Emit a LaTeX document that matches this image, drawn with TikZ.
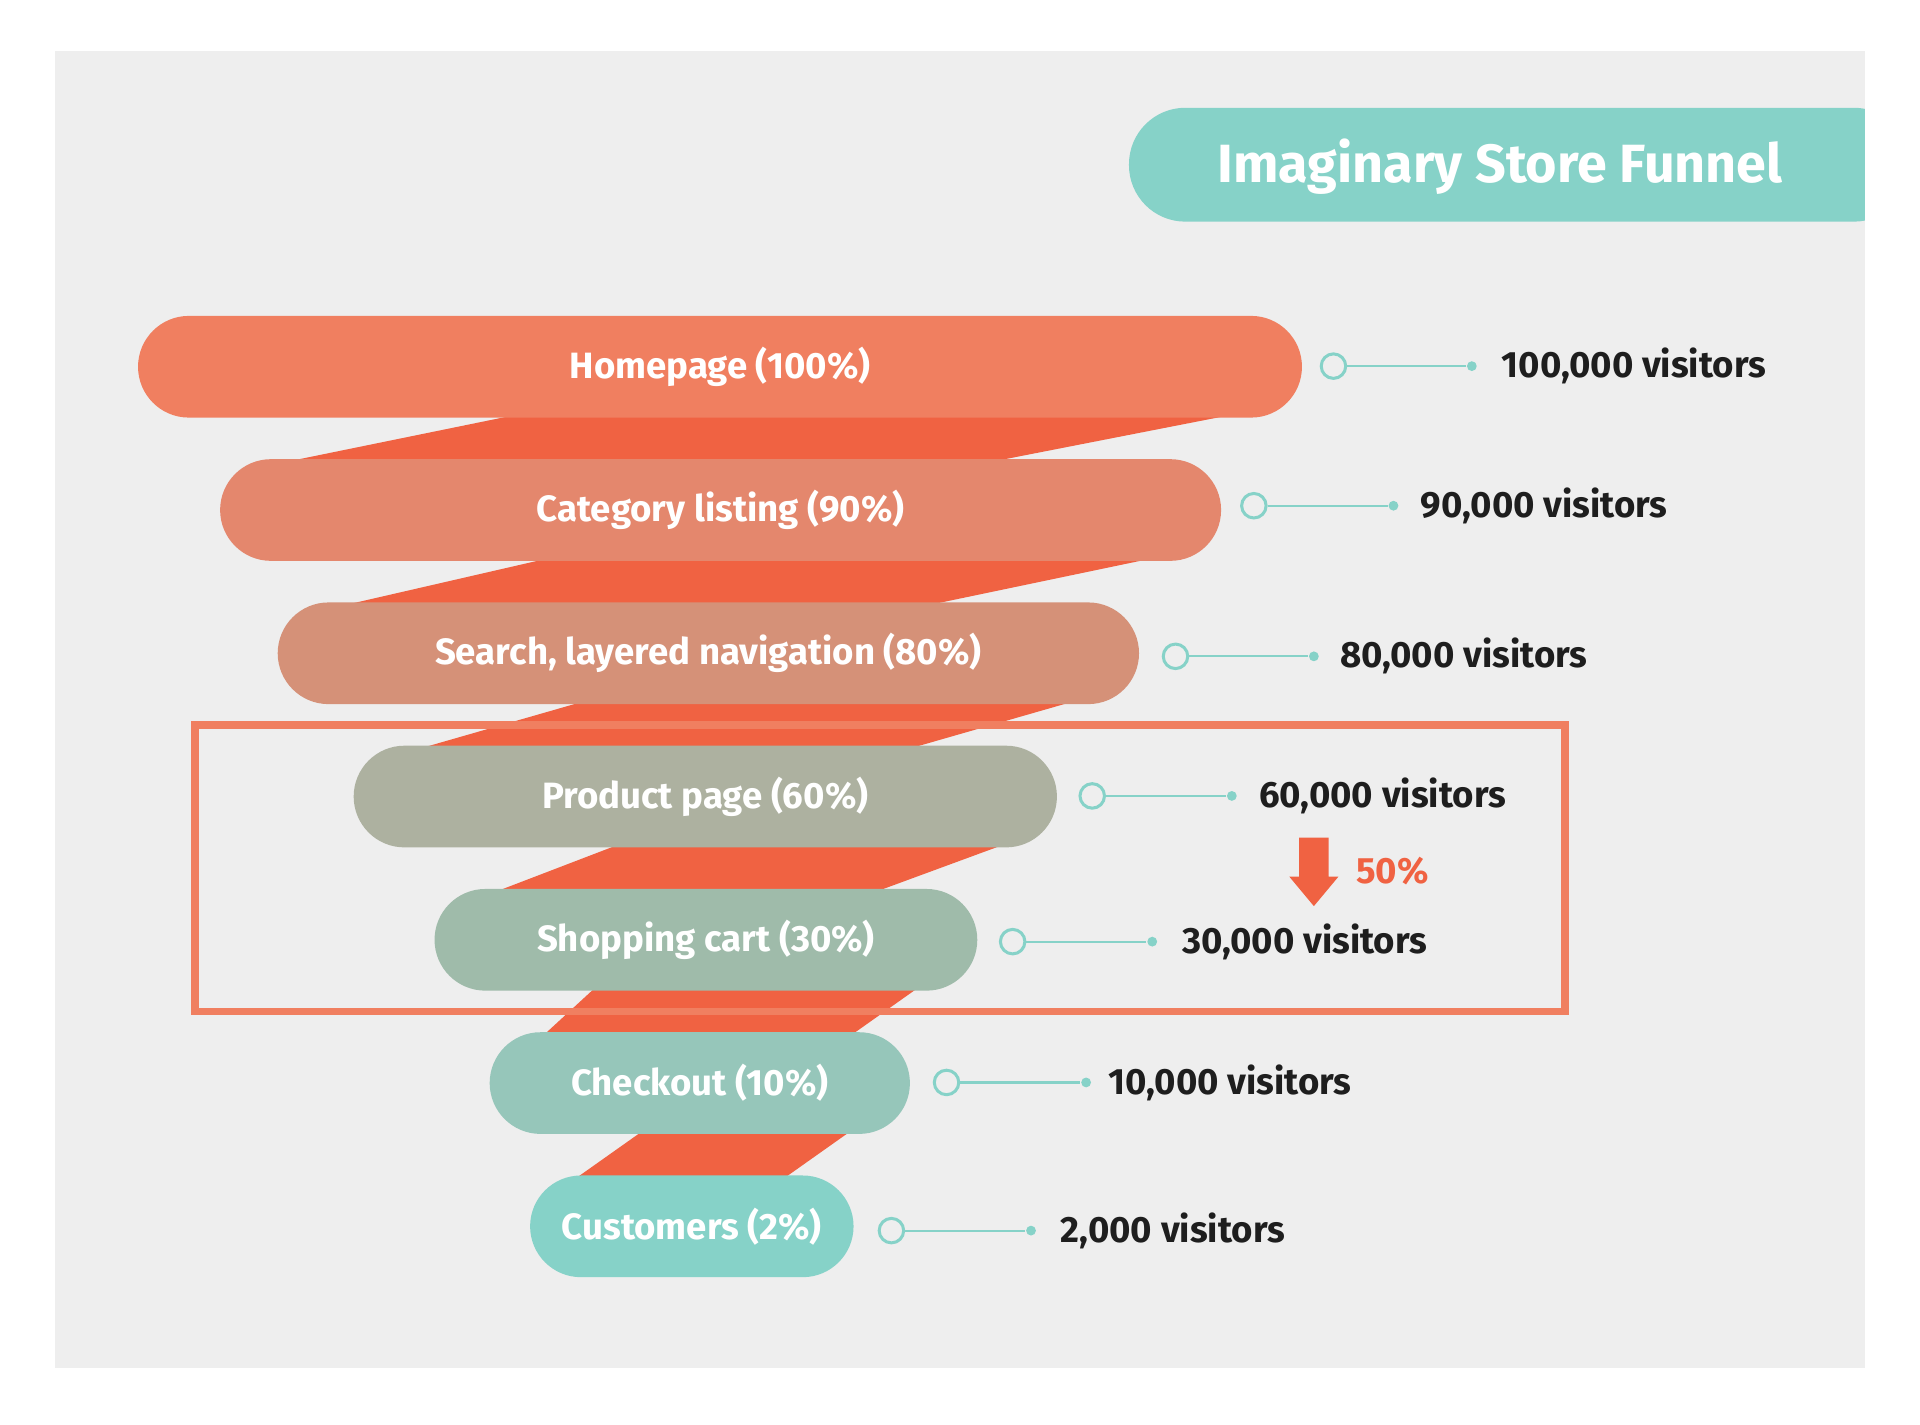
\documentclass[tikz,border=0pt]{standalone}
\usepackage{fontspec}
\setmainfont{Fira Sans}
\usetikzlibrary{arrows.meta}
\definecolor{bggray}{HTML}{EEEEEE}
\definecolor{teal}{HTML}{86D2C8}
\definecolor{band}{HTML}{F06242}
\definecolor{frame}{HTML}{F07F60}
\definecolor{stepa}{HTML}{F07F60}
\definecolor{stepb}{HTML}{E4876D}
\definecolor{stepc}{HTML}{D59178}
\definecolor{stepd}{HTML}{ADB1A0}
\definecolor{stepe}{HTML}{9FBBAA}
\definecolor{stepf}{HTML}{96C6BA}
\definecolor{stepg}{HTML}{86D2C8}
\definecolor{ink}{HTML}{1E1E1E}
\tikzset{
  pill/.style={rounded corners=0.415cm, minimum height=0.83cm, inner sep=0pt, text=white, font=\fontsize{8.5}{10}\selectfont\bfseries},
  ring/.style={circle, draw=teal, line width=0.7pt, fill=bggray, minimum size=0.2cm, inner sep=0pt},
  dot/.style={circle, fill=teal, minimum size=0.08cm, inner sep=0pt},
  count/.style={anchor=west, text=ink, font=\fontsize{8.5}{10}\selectfont\bfseries},
  link/.style={draw=teal, line width=0.5pt}
}
\begin{document}
\begin{tikzpicture}[x=0.01cm, y=-0.01cm]
			\useasboundingbox (0,0) rectangle (1568,1163);
			% Background and title
			\fill[white] (0,0) rectangle (1568,1163);
			\fill[bggray] (45,42) rectangle (1523,1117);
			\fill[teal, rounded corners=0.46cm] (922,88) rectangle (1560,181);
			\fill[bggray] (1523,80) rectangle (1568,190);
			\fill[white] (1523,80) rectangle (1568,190);
			\node[text=white, font=\fontsize{12.5}{14}\selectfont\bfseries] (title) at (1225,136) {Imaginary Store Funnel};
			% Bands
			\fill[band] (440,335) -- (1025,335) -- (790,381) -- (215,381) -- cycle;
			\fill[band] (465,452) -- (960,452) -- (740,498) -- (265,498) -- cycle;
			\fill[band] (490,569) -- (890,569) -- (730,615) -- (330,615) -- cycle;
			\fill[band] (515,686) -- (830,686) -- (705,732) -- (395,732) -- cycle;
			\fill[band] (490,803) -- (755,803) -- (690,849) -- (440,849) -- cycle;
			\fill[band] (530,920) -- (700,920) -- (635,966) -- (465,966) -- cycle;
			% Steps
			\node[pill, fill=stepa, minimum width=9.50cm] (home) at (588,299.5) {Homepage (100\%)};
			\node[pill, fill=stepb, minimum width=8.17cm] (cat) at (588.5,416.5) {Category listing (90\%)};
			\node[pill, fill=stepc, minimum width=7.03cm] (search) at (578.5,533.5) {Search, layered navigation (80\%)};
			\node[pill, fill=stepd, minimum width=5.74cm] (product) at (576,650.5) {Product page (60\%)};
			\node[pill, fill=stepe, minimum width=4.43cm] (cart) at (576.5,767.5) {Shopping cart (30\%)};
			\node[pill, fill=stepf, minimum width=3.43cm] (checkout) at (571.5,884.5) {Checkout (10\%)};
			\node[pill, fill=stepg, minimum width=2.64cm] (cust) at (565,1001.5) {Customers (2\%)};
			% Counts
			\node[ring] (r1) at (1089,299) {};
			\node[dot] (d1) at (1202,299) {};
			\node[count] (c1) at (1214,299) {100,000 visitors};
			\node[ring] (r2) at (1024,413) {};
			\node[dot] (d2) at (1138,413) {};
			\node[count] (c2) at (1148,413) {90,000 visitors};
			\node[ring] (r3) at (960,536) {};
			\node[dot] (d3) at (1073,536) {};
			\node[count] (c3) at (1082,536) {80,000 visitors};
			\node[ring] (r4) at (892,650) {};
			\node[dot] (d4) at (1006,650) {};
			\node[count] (c4) at (1016,650) {60,000 visitors};
			\node[ring] (r5) at (827,769) {};
			\node[dot] (d5) at (941,769) {};
			\node[count] (c5) at (953,769) {30,000 visitors};
			\node[ring] (r6) at (773,884) {};
			\node[dot] (d6) at (887,884) {};
			\node[count] (c6) at (893,884) {10,000 visitors};
			\node[ring] (r7) at (728,1005) {};
			\node[dot] (d7) at (842,1005) {};
			\node[count] (c7) at (854,1005) {2,000 visitors};
			\path[link] (r1) -- (d1) (r2) -- (d2) (r3) -- (d3) (r4) -- (d4) (r5) -- (d5) (r6) -- (d6) (r7) -- (d7);
			% Highlight
			\draw[frame, line width=1.8pt] (159,592) rectangle (1278,826);
			\fill[band] (1061,684) -- (1085,684) -- (1085,716) -- (1093,716) -- (1073,740) -- (1053,716) -- (1061,716) -- cycle;
			\node[anchor=west, text=band, font=\fontsize{8.5}{10}\selectfont\bfseries] (drop) at (1095,711) {50\%};
		\end{tikzpicture}
\end{document}
